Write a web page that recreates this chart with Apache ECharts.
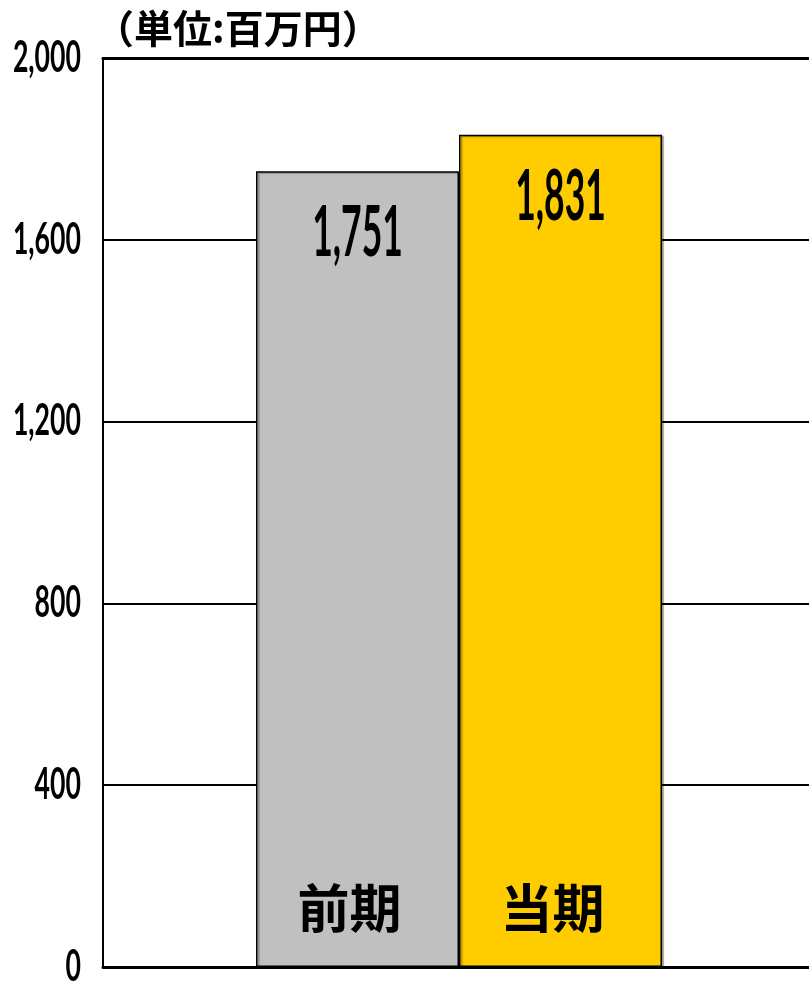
<!DOCTYPE html>
<html>
<head>
<meta charset="utf-8">
<script src="https://cdn.jsdelivr.net/npm/echarts@6/dist/echarts.min.js"></script>
<style>
html,body{margin:0;padding:0;background:#fff;}
#chart{width:809px;height:987px;}
</style>
</head>
<body>
<div id="chart"></div>
<script>
const categories = ['前期', '当期'];
const values = [1751, 1831];
const barColors = ['#C0C0C0', '#FFCC00'];
const yTickLabels = ['0', '400', '800', '1,200', '1,600', '2,000'];
const unitLabel = '（単位:百万円）';

const BAR_W = 203;
const Y_MIN = 0, Y_MAX = 2000, Y_STEP = 400;
const fmt = v => v.toLocaleString('en-US');
const yTickValues = yTickLabels.map(s => Number(s.replace(/,/g, '')));

const chart = echarts.init(document.getElementById('chart'), null, {renderer: 'canvas'});

// bars live on grid 1 (hidden axes), frame/ticks on grid 0
const barSeries = categories.map((name, i) => ({
  name: name,
  type: 'bar',
  xAxisIndex: 2,
  yAxisIndex: 1,
  barWidth: BAR_W,
  barGap: '0%',
  z: 3,
  itemStyle: {
    color: barColors[i],
    borderColor: '#000',
    borderWidth: 1.5,
    shadowColor: 'rgba(0,0,0,0.3)',
    shadowOffsetX: 2,
    shadowOffsetY: 1,
    shadowBlur: 1
  },
  data: [values[i]]
}));

const option = {
  animation: false,
  backgroundColor: '#fff',
  title: {
    text: unitLabel,
    left: 95,
    top: 9,
    padding: 0,
    textStyle: {
      fontFamily: 'Noto Sans CJK JP',
      fontWeight: 'bold',
      fontSize: 39,
      color: '#000'
    }
  },
  grid: [
    {left: 103, right: 0, top: 58, bottom: 20, containLabel: false},
    {left: 109, right: 0, top: 58, bottom: 20, containLabel: false}
  ],
  xAxis: [
    {
      type: 'category',
      gridIndex: 0,
      data: [''],
      position: 'bottom',
      axisLine: {show: true, lineStyle: {color: '#000', width: 3}},
      axisTick: {show: false},
      axisLabel: {show: false},
      z: 5
    },
    {
      type: 'category',
      gridIndex: 0,
      data: [''],
      position: 'top',
      axisLine: {show: true, lineStyle: {color: '#000', width: 3}},
      axisTick: {show: false},
      axisLabel: {show: false}
    },
    {
      type: 'category',
      gridIndex: 1,
      data: [''],
      show: false
    }
  ],
  yAxis: [
    {
      type: 'value',
      gridIndex: 0,
      min: Y_MIN,
      max: Y_MAX,
      interval: Y_STEP,
      axisLine: {show: true, lineStyle: {color: '#000', width: 2}},
      axisTick: {show: false},
      axisLabel: {show: false},
      splitLine: {show: true, lineStyle: {color: '#000', width: 2}}
    },
    {
      type: 'value',
      gridIndex: 1,
      min: Y_MIN,
      max: Y_MAX,
      interval: Y_STEP,
      show: false,
      splitLine: {show: false}
    }
  ],
  series: barSeries.concat([
    {
      name: 'valueLabels',
      type: 'custom',
      xAxisIndex: 2,
      yAxisIndex: 1,
      z: 10,
      silent: true,
      data: values.map((v, i) => [0, v, i]),
      encode: {x: 0, y: 1},
      renderItem: function (params, api) {
        const idx = api.value(2);
        const p = api.coord([api.value(0), api.value(1)]);
        const n = categories.length;
        const x = p[0] + (idx - (n - 1) / 2) * BAR_W;
        return {
          type: 'text',
          x: x,
          y: p[1] + 62,
          scaleX: 0.5,
          style: {
            text: fmt(values[idx]),
            fontFamily: 'Lato',
            fontWeight: 'bold',
            fontSize: 71,
            fill: '#000',
            align: 'center',
            verticalAlign: 'middle'
          }
        };
      }
    },
    {
      name: 'categoryLabels',
      type: 'custom',
      xAxisIndex: 2,
      yAxisIndex: 1,
      z: 10,
      silent: true,
      data: categories.map((c, i) => [0, 0, i]),
      encode: {x: 0, y: 1},
      renderItem: function (params, api) {
        const idx = api.value(2);
        const p = api.coord([api.value(0), api.value(1)]);
        const n = categories.length;
        const x = p[0] + (idx - (n - 1) / 2) * BAR_W - 8;
        return {
          type: 'text',
          x: x,
          y: p[1] - 59,
          style: {
            text: categories[idx],
            fontFamily: 'Noto Sans CJK JP',
            fontWeight: 'bold',
            fontSize: 52,
            fill: '#000',
            align: 'center',
            verticalAlign: 'middle'
          }
        };
      }
    },
    {
      name: 'yTickLabels',
      type: 'custom',
      xAxisIndex: 0,
      yAxisIndex: 0,
      z: 10,
      silent: true,
      clip: false,
      data: yTickValues.map(v => [0, v]),
      encode: {x: 0, y: 1},
      renderItem: function (params, api) {
        const p = api.coord([0, api.value(1)]);
        return {
          type: 'text',
          x: params.coordSys.x - 22,
          y: p[1],
          scaleX: 0.62,
          style: {
            text: yTickLabels[params.dataIndex],
            fontFamily: 'Lato',
            fontWeight: 'bold',
            fontSize: 43,
            fill: '#000',
            align: 'right',
            verticalAlign: 'middle'
          }
        };
      }
    }
  ])
};

chart.setOption(option);
</script>
</body>
</html>
